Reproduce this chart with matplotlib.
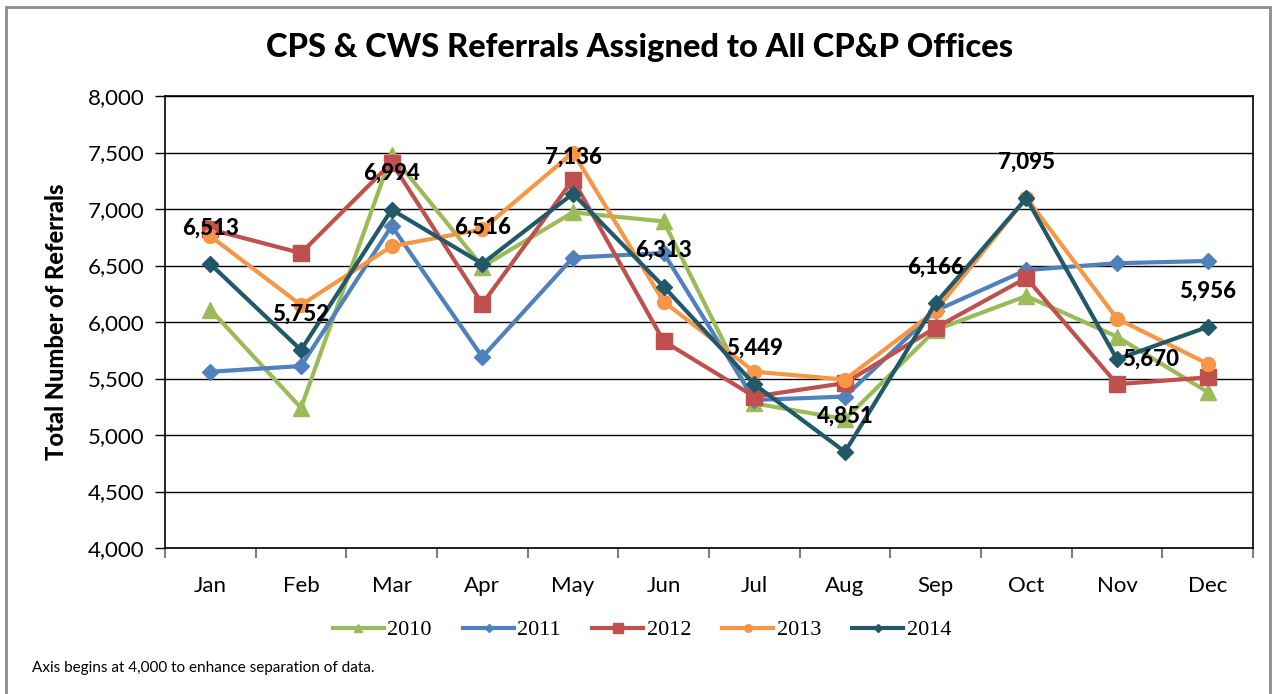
import matplotlib.pyplot as plt
from matplotlib.patches import Rectangle

months = ['Jan', 'Feb', 'Mar', 'Apr', 'May', 'Jun', 'Jul', 'Aug', 'Sep', 'Oct', 'Nov', 'Dec']
y2010 = [6110, 5240, 7480, 6490, 6970, 6890, 5280, 5140, 5930, 6230, 5870, 5380]
y2011 = [5560, 5610, 6850, 5690, 6570, 6610, 5310, 5340, 6100, 6460, 6520, 6540]
y2012 = [6820, 6610, 7410, 6160, 7260, 5830, 5340, 5460, 5950, 6390, 5450, 5510]
y2013 = [6760, 6150, 6670, 6820, 7500, 6180, 5560, 5490, 6100, 7100, 6030, 5630]
y2014 = [6513, 5752, 6994, 6516, 7136, 6313, 5449, 4851, 6166, 7095, 5670, 5956]

plt.rcParams['font.family'] = ['Lato', 'DejaVu Sans']

fig = plt.figure(figsize=(12.75, 6.94), dpi=100)
fig.patches.append(Rectangle((6 / 1275, -0.1), 1264 / 1275, 1 + 0.1 - 7 / 694,
                             transform=fig.transFigure, fill=False,
                             edgecolor='#8c8c8c', linewidth=2))
ax = fig.add_axes([165 / 1275, (694 - 548) / 694, 1088 / 1275, 452 / 694])

x = list(range(len(months)))
ax.plot(x, y2010, color='#9BBB59', lw=3, marker='^', ms=11, label='2010')
ax.plot(x, y2011, color='#4F81BD', lw=3, marker='D', ms=8, label='2011')
ax.plot(x, y2012, color='#C0504D', lw=3, marker='s', ms=12, label='2012')
ax.plot(x, y2013, color='#F79646', lw=3, marker='o', ms=10, label='2013')
ax.plot(x, y2014, color='#215968', lw=3, marker='D', ms=8, label='2014')

for i, v in enumerate(y2014):
    if months[i] == 'Nov':
        ax.annotate(f'{v:,}', (i, v), xytext=(4, 0), textcoords='offset points',
                    ha='left', va='center', fontsize=16, fontweight='black')
    else:
        ax.annotate(f'{v:,}', (i, v), xytext=(0, 26), textcoords='offset points',
                    ha='center', va='center', fontsize=16, fontweight='black')

ax.set_xlim(-0.5, 11.5)
ax.set_ylim(4000, 8000)
ax.set_yticks(range(4000, 8001, 500))
ax.set_yticklabels([f'{t:,}' for t in range(4000, 8001, 500)], fontsize=16)
ax.set_xticks(x)
ax.set_xticklabels(months, fontsize=16)
ax.set_xticks([i - 0.5 for i in range(13)], minor=True)
ax.tick_params(axis='x', which='major', length=0, pad=20)
ax.tick_params(axis='x', which='minor', length=7, color='#808080', width=1.5)
ax.tick_params(axis='y', length=7, width=1, pad=8)
ax.grid(axis='y', color='black', lw=1)
ax.set_axisbelow(True)
for s in ax.spines.values():
    s.set_linewidth(1.2)

ax.set_ylabel('Total Number of Referrals', fontsize=17, fontweight='black', labelpad=14)
fig.text(640 / 1275, 1 - 48 / 694, 'CPS & CWS Referrals Assigned to All CP&P Offices',
         ha='center', va='center', fontsize=23.5, fontweight='black')

leg = fig.legend(loc='center', bbox_to_anchor=(642 / 1275, 1 - 630 / 694), ncol=5,
                 frameon=False, prop={'family': 'Liberation Serif', 'size': 16},
                 handlelength=2.3, columnspacing=1.4, handletextpad=0.15, markerscale=0.55)

fig.text(32 / 1275, 1 - 668 / 694, 'Axis begins at 4,000 to enhance separation of data.',
         ha='left', va='center', fontsize=11)

fig.savefig('out.png', dpi=100)
